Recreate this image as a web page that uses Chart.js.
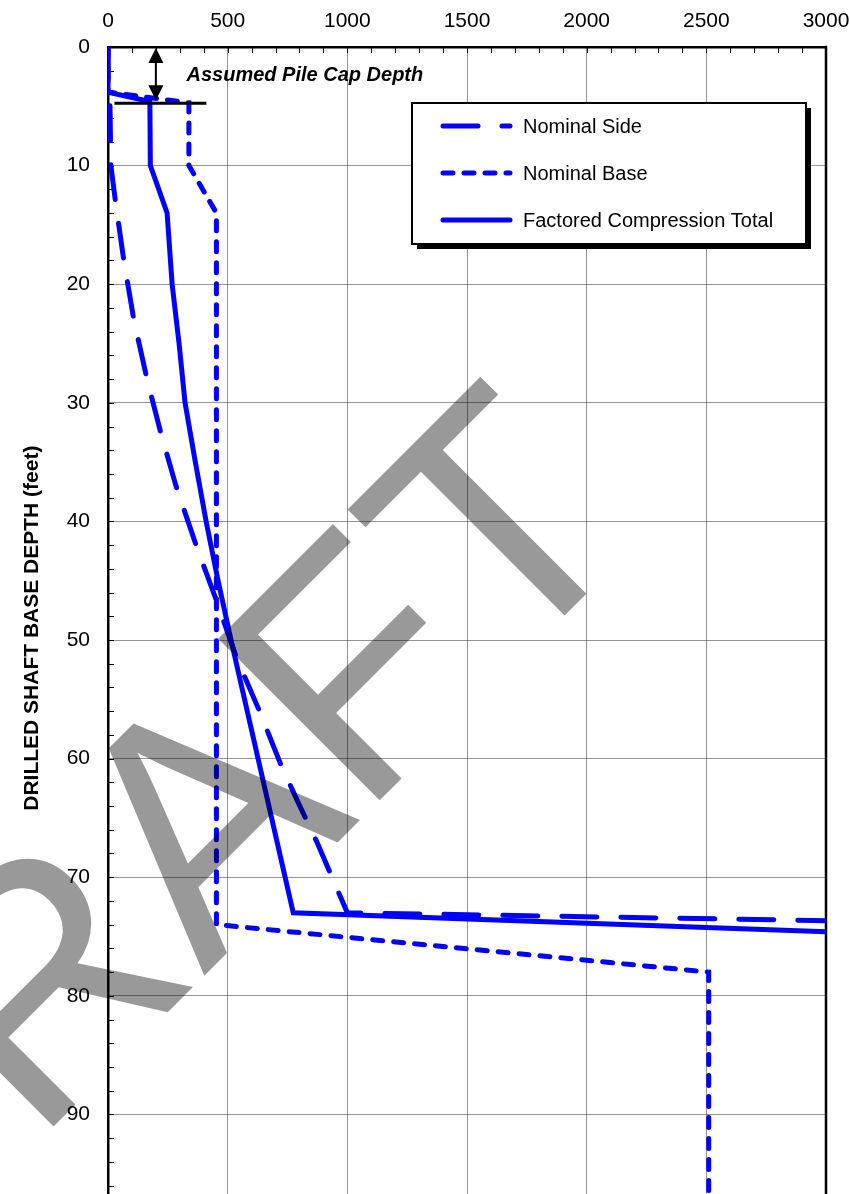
<!DOCTYPE html>
<html>
<head>
<meta charset="utf-8">
<script src="https://cdn.jsdelivr.net/npm/chart.js@4/dist/chart.umd.min.js"></script>
<style>
  html, body { margin: 0; padding: 0; background: #fff; overflow: hidden; }
  #wrap { width: 850px; height: 1240px; }
</style>
</head>
<body>
<div id="wrap"><canvas id="c" width="850" height="1240"></canvas></div>
<script>
// Drilled shaft axial resistance versus base depth (kips vs feet)
const sideDepth  = [0, 3.8, 4.6, 10, 13, 18, 23, 28, 32.5, 37, 42, 46.5, 51.5, 56, 60.5, 63.5, 67, 73, 74];
const sideKips   = [0, 0, 8, 12, 31, 66, 108, 163, 220, 284, 368, 450, 537, 633, 722, 790, 872, 1000, 4000];

const baseDepth  = [0, 3.8, 4.7, 10, 14, 74, 78, 100];
const baseKips   = [0, 0, 338, 338, 453, 453, 2510, 2510];

const totalDepth = [0, 3.8, 4.6, 10, 14, 20, 25, 30, 35, 40, 45, 50, 73, 75];
const totalKips  = [0, 0, 175, 177, 247, 268, 297, 322, 365, 410, 460, 514, 774, 3560];

const seriesNames = ['Nominal Side', 'Nominal Base', 'Factored Compression Total'];
const xTicks = [0, 500, 1000, 1500, 2000, 2500, 3000];
const yTicks = [0, 10, 20, 30, 40, 50, 60, 70, 80, 90, 100];
const capDepth = 4.75;
const noteText = 'Assumed Pile Cap Depth';
const yTitle = 'DRILLED SHAFT BASE DEPTH (feet)';
const stampText = 'DRAFT';

const X_MINOR = 100, Y_MINOR = 2;
const FONT = '"Liberation Sans", Arial, Helvetica, sans-serif';
const BLUE = '#0000ff';

const pts = (xs, ys) => xs.map((v, i) => ({ x: v, y: ys[i] }));

const lineStyle = {
  borderColor: BLUE, backgroundColor: BLUE, borderWidth: 5,
  borderCapStyle: 'round', borderJoinStyle: 'miter',
  pointRadius: 0, fill: false, tension: 0
};

const datasets = [
  Object.assign({ label: seriesNames[0], data: pts(sideKips, sideDepth), borderDash: [35, 24] }, lineStyle),
  Object.assign({ label: seriesNames[1], data: pts(baseKips, baseDepth), borderDash: [10, 11] }, lineStyle),
  Object.assign({ label: seriesNames[2], data: pts(totalKips, totalDepth), borderDash: [] }, lineStyle)
];

// inward tick marks, the right-hand frame line and the depth-axis title
const framePlugin = {
  id: 'frame',
  beforeDatasetsDraw(chart) {
    const { ctx, chartArea: a, scales: { x, y } } = chart;
    ctx.save();
    ctx.strokeStyle = '#000';
    ctx.lineWidth = 1;
    ctx.beginPath();
    for (let v = x.min; v <= x.max; v += X_MINOR) {
      const p = Math.round(x.getPixelForValue(v)) + 0.5;
      ctx.moveTo(p, a.top); ctx.lineTo(p, a.top + 6);
    }
    for (let v = y.min; v <= y.max; v += Y_MINOR) {
      const p = Math.round(y.getPixelForValue(v)) + 0.5;
      ctx.moveTo(a.left, p); ctx.lineTo(a.left + 6, p);
    }
    ctx.stroke();
    ctx.lineWidth = 2.5;
    ctx.beginPath();
    ctx.moveTo(a.right, a.top - 1.25);
    ctx.lineTo(a.right, a.bottom);
    ctx.stroke();

    ctx.translate(32, y.getPixelForValue(49));
    ctx.rotate(-Math.PI / 2);
    ctx.font = 'bold 21px ' + FONT;
    ctx.fillStyle = '#000';
    ctx.textAlign = 'center';
    ctx.textBaseline = 'middle';
    ctx.fillText(yTitle, 0, 0);
    ctx.restore();
  }
};

// cap-depth note, legend box and the stamp across the plot
const overlayPlugin = {
  id: 'overlay',
  afterDraw(chart) {
    const { ctx, chartArea: a, scales: { x, y } } = chart;
    ctx.save();

    // pile cap marker
    const ax = x.getPixelForValue(200);
    const y0 = y.getPixelForValue(0);
    const yc = y.getPixelForValue(capDepth);
    ctx.strokeStyle = '#000';
    ctx.fillStyle = '#000';
    ctx.lineWidth = 2;
    ctx.beginPath();
    ctx.moveTo(ax, y0 + 12); ctx.lineTo(ax, yc - 12);
    ctx.stroke();
    ctx.beginPath();
    ctx.moveTo(ax, y0 + 1); ctx.lineTo(ax - 7.5, y0 + 16); ctx.lineTo(ax + 7.5, y0 + 16); ctx.closePath();
    ctx.fill();
    ctx.beginPath();
    ctx.moveTo(ax, yc - 3); ctx.lineTo(ax - 7.5, yc - 18); ctx.lineTo(ax + 7.5, yc - 18); ctx.closePath();
    ctx.fill();
    ctx.lineWidth = 3;
    ctx.beginPath();
    ctx.moveTo(x.getPixelForValue(27), yc); ctx.lineTo(x.getPixelForValue(411), yc);
    ctx.stroke();

    ctx.font = 'italic bold 20px ' + FONT;
    ctx.textAlign = 'left';
    ctx.textBaseline = 'alphabetic';
    ctx.fillText(noteText, x.getPixelForValue(328), y.getPixelForValue(2.85));

    // legend
    const L = a.left + 304, T = a.top + 56, W = 394, H = 141;
    ctx.fillStyle = '#000';
    ctx.fillRect(L + 5, T + 5, W, H);
    ctx.fillStyle = '#fff';
    ctx.fillRect(L, T, W, H);
    ctx.lineWidth = 2;
    ctx.strokeStyle = '#000';
    ctx.strokeRect(L, T, W, H);
    ctx.font = '20px ' + FONT;
    ctx.textBaseline = 'middle';
    chart.data.datasets.forEach((ds, i) => {
      const ry = T + 23 + i * 47;
      ctx.save();
      ctx.strokeStyle = ds.borderColor;
      ctx.lineWidth = ds.borderWidth;
      ctx.lineCap = ds.borderCapStyle;
      ctx.setLineDash(ds.borderDash);
      ctx.beginPath();
      ctx.moveTo(L + 31, ry); ctx.lineTo(L + 98, ry);
      ctx.stroke();
      ctx.restore();
      ctx.fillStyle = '#000';
      ctx.fillText(ds.label, L + 111, ry + 1);
    });

    // stamp
    ctx.save();
    ctx.translate(256, 924);
    ctx.rotate(-Math.PI / 4);
    ctx.font = '332px ' + FONT;
    ctx.textAlign = 'center';
    ctx.textBaseline = 'alphabetic';
    ctx.fillStyle = 'rgba(0,0,0,0.4)';
    ctx.fillText(stampText, 0, 0);
    ctx.restore();

    ctx.restore();
  }
};

new Chart(document.getElementById('c'), {
  type: 'line',
  data: { datasets },
  options: {
    responsive: false,
    animation: false,
    devicePixelRatio: 1,
    layout: { padding: { top: 0, left: 0, right: 24, bottom: 7 } },
    plugins: { legend: { display: false }, tooltip: { enabled: false } },
    scales: {
      x: {
        type: 'linear', position: 'top', min: 0, max: 3000,
        afterBuildTicks: s => { s.ticks = xTicks.map(v => ({ value: v })); },
        afterFit: s => { s.height = 47; s.paddingLeft = 0; s.paddingRight = 0; },
        ticks: { color: '#000', font: { family: FONT, size: 21 }, padding: 13, maxRotation: 0,
                 callback: v => String(v) },
        grid: { color: '#2a2a2a', lineWidth: 1, drawTicks: false },
        border: { display: true, color: '#000', width: 2.5, dash: [1, 1] }
      },
      y: {
        type: 'linear', position: 'left', min: 0, max: 100, reverse: true,
        afterBuildTicks: s => { s.ticks = yTicks.map(v => ({ value: v })); },
        afterFit: s => { s.width = 108; s.paddingTop = 0; s.paddingBottom = 0; },
        ticks: { color: '#000', font: { family: FONT, size: 21 }, padding: 18,
                 callback: v => String(v) },
        grid: { color: '#2a2a2a', lineWidth: 1, drawTicks: false },
        border: { display: true, color: '#000', width: 2.5, dash: [1, 1] }
      }
    }
  },
  plugins: [framePlugin, overlayPlugin]
});
</script>
</body>
</html>
